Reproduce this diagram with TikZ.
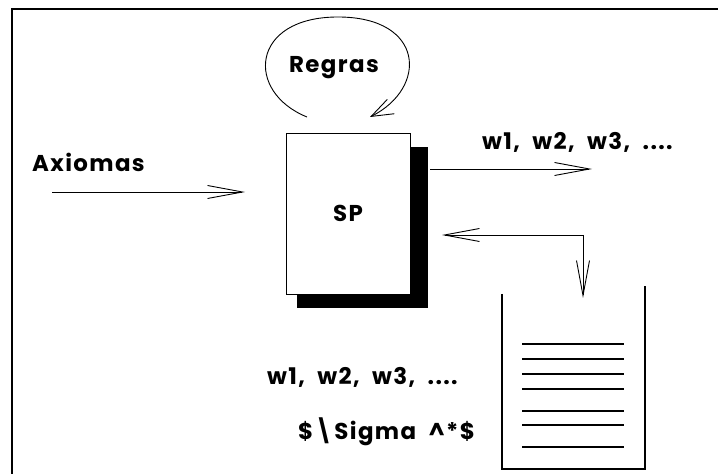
\documentclass[tikz,border=0pt]{standalone}
\usepackage{fontspec}
\newfontfamily\pop{Poppins}[LetterSpace=6,WordSpace=2]
\usetikzlibrary{arrows.meta}
\tikzset{
  lbl/.style={font={\fontsize{23}{27}\pop\bfseries\selectfont}, inner sep=0pt},
  barb/.style={-{Straight Barb[length=35bp,width=13bp,line width=0.9bp]}, line width=0.9bp},
  smallbarb/.style={-{Straight Barb[length=22bp,width=16bp,line width=0.9bp]}, line width=0.9bp},
  thin/.style={line width=0.9bp},
}
\begin{document}
\begin{tikzpicture}[x=1bp,y=-1bp]
\useasboundingbox (0,0) rectangle (718,474);
% frame
\draw[line width=2.2bp] (12,474) -- (12,9) -- (718,9);
% Regras loop
\node[lbl] (regras) at (334,68) {Regras};
\coordinate (loopA) at (307,117);
\coordinate (loopB) at (370,117);
\draw[smallbarb] (loopA) .. controls (245,92) and (250,17) .. (338,17)
   .. controls (425,17) and (428,88) .. (loopB);
% SP box with shadow
\node[fill=black, minimum width=131bp, minimum height=161bp, inner sep=0pt] (shadow) at (362.5,227.5) {};
\node[draw, fill=white, thin, minimum width=124bp, minimum height=161bp, inner sep=0pt, lbl] (sp) at (348,213.5) {SP};
% Axiomas
\node[lbl, anchor=west] (axi) at (32,162) {Axiomas};
\coordinate (axs) at (52,192);
\coordinate (axe) at (245,192);
\draw[barb] (axs) -- (axe);
% output
\node[lbl, anchor=west] (wout) at (482,142) {w1, w2, w3, ....};
\coordinate (os) at (430,169);
\coordinate (oe) at (592,169);
\draw[barb] (os) -- (oe);
% return arrows
\coordinate (corner) at (583,235);
\coordinate (rt) at (442,235);
\coordinate (dn) at (583,298);
\draw[barb] (corner) -- (rt);
\draw[barb] (corner) -- (dn);
% container
\coordinate (cl) at (502,294);
\coordinate (cr) at (645,286);
\draw[line width=1.3bp] (cl) -- (502,469) -- (645,469) -- (cr);
\foreach \yy in {344,359,374,389,411,425,447}
  \draw[line width=1.1bp] (522,\yy) -- (624,\yy);
% bottom labels
\node[lbl, anchor=west] (wbot) at (267,377) {w1, w2, w3, ....};
\node[lbl, anchor=west] (sig) at (298,432) {\$\textbackslash Sigma \textasciicircum*\$};
\end{tikzpicture}
\end{document}
